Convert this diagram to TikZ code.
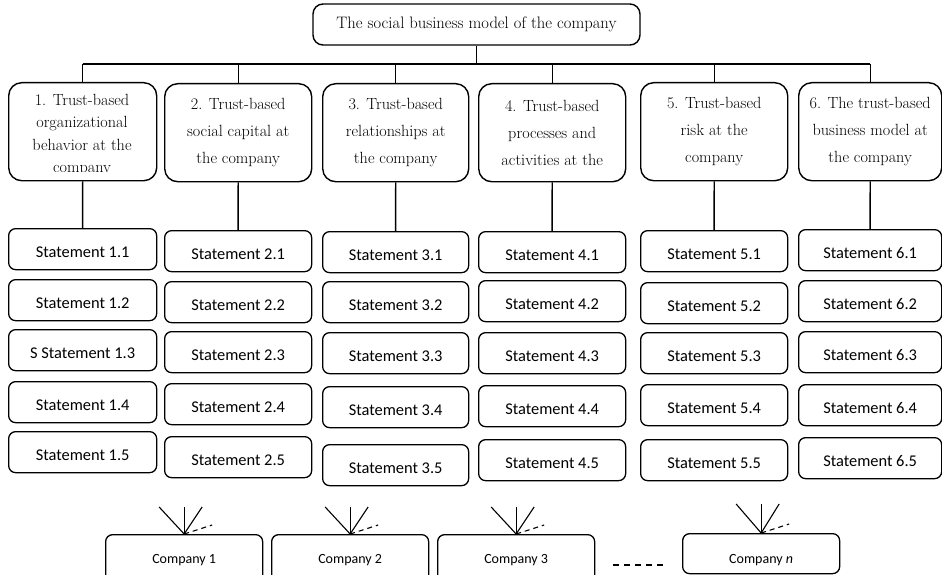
\documentclass[tikz,border=0pt]{standalone}
\usepackage{fontspec}
\newfontfamily\calfont{Carlito}
\tikzset{
  titlebox/.style={draw, line width=1.4pt, rounded corners=10pt, minimum width=327pt, minimum height=41pt, inner sep=0pt, font=\fontsize{16.6}{20}\selectfont},
  catbox/.style={draw, line width=1.4pt, rounded corners=13pt, minimum height=98pt, inner sep=0pt, anchor=north west, align=center, font=\fontsize{16.2}{27}\selectfont},
  cattext/.style={inner sep=0pt, align=center, font=\fontsize{16.2}{22.5}\selectfont},
  stbox/.style={draw, line width=1.3pt, rounded corners=7pt, minimum height=41pt, inner sep=0pt, anchor=north west, text height=16pt, text depth=0pt, font=\calfont\fontsize{16.4}{19}\selectfont},
  compbox/.style={draw, line width=1.3pt, rounded corners=7pt, minimum width=157pt, inner sep=0pt, anchor=north west, text depth=0pt, font=\calfont\fontsize{14}{17}\selectfont},
  link/.style={line width=1.4pt},
  fan/.style={line width=1.1pt},
  fandash/.style={line width=1.1pt, dash pattern=on 5pt off 4pt},
}
\begin{document}
\begin{tikzpicture}[x=1pt,y=-1pt]
\useasboundingbox (0,0) rectangle (942,575);
% title
\node[titlebox] (t) at (476.5,24.5) {The social business model of the company};
% category boxes
\node[catbox, minimum width=148pt] (c1) at (8,82) {};
\begin{scope}
  \clip (8,82) rectangle (156,171.5);
  \node[cattext] (c1t) at (82,135) {1. Trust-based\\organizational\\behavior at the\\company};
\end{scope}
\node[catbox, minimum width=147pt] (c2) at (164,83) {2. Trust-based\\social capital at\\the company};
\node[catbox, minimum width=146pt] (c3) at (322,83) {3. Trust-based\\relationships at\\the company};
\node[catbox, minimum width=147pt] (c4) at (478,83) {4. Trust-based\\processes and\\activities at the};
\node[catbox, minimum width=147pt] (c5) at (640,82) {5. Trust-based\\risk at the\\company};
\node[catbox, minimum width=143pt] (c6) at (798,82) {6. The trust-based\\business model at\\the company};
% bus
\coordinate (bus) at (476.5,64);
\draw[link] (t.south) -- (t.south |- bus);
\draw[link] (c1.north |- bus) -- (c6.north |- bus);
\foreach \c in {1,...,6} {
  \draw[link] (c\c.north |- bus) -- (c\c.north);
}
% statements
\foreach \c/\xl/\w/\ta/\tb/\tc/\td/\te in {
  1/8/148/228/279/329/381/431,
  2/164/147/230/281/331/383/436,
  3/322/146/231/281/332/386/444,
  4/478/147/231/280/332/385/439,
  5/640/147/230/282/332/384/439,
  6/798/143/229/280/331/384/437} {
  \foreach \r/\y in {1/\ta,2/\tb,3/\tc,4/\td,5/\te} {
    \ifnum\c=1 \ifnum\r=3
      \node[stbox, minimum width=\w pt] (s\c-\r) at (\xl,\y) {S Statement \c.\r};
    \else
      \node[stbox, minimum width=\w pt] (s\c-\r) at (\xl,\y) {Statement \c.\r};
    \fi\else
      \node[stbox, minimum width=\w pt] (s\c-\r) at (\xl,\y) {Statement \c.\r};
    \fi
  }
  \draw[link] (c\c.south) -- (s\c-1.north);
}
% companies
\node[compbox, minimum height=48pt, text height=9pt] (k1) at (105,534) {Company 1};
\node[compbox, minimum height=48pt, text height=9pt] (k2) at (271,534) {Company 2};
\node[compbox, minimum height=48pt, text height=9pt] (k3) at (437,534) {Company 3};
\node[compbox, minimum height=40pt, text height=19pt] (kn) at (682,533) {Company \textit{n}};
\foreach \k/\up in {1/27,2/27,3/27,n/29} {
  \path (k\k.north) ++(-25,-\up) coordinate (fl\k)
        (k\k.north) ++(0,-\up) coordinate (fm\k)
        (k\k.north) ++(18,-\up) coordinate (fr\k)
        (k\k.north) ++(28,-9) coordinate (fd\k);
  \draw[fan] (fl\k) -- (k\k.north);
  \draw[fan] (fm\k) -- (k\k.north);
  \draw[fan] (fr\k) -- (k\k.north);
  \draw[fandash] (k\k.north) -- (fd\k);
}
\coordinate (d1) at (613,565);
\coordinate (d2) at (663,565);
\draw[line width=1.1pt, dash pattern=on 6pt off 5pt] (d1) -- (d2);
\end{tikzpicture}
\end{document}
